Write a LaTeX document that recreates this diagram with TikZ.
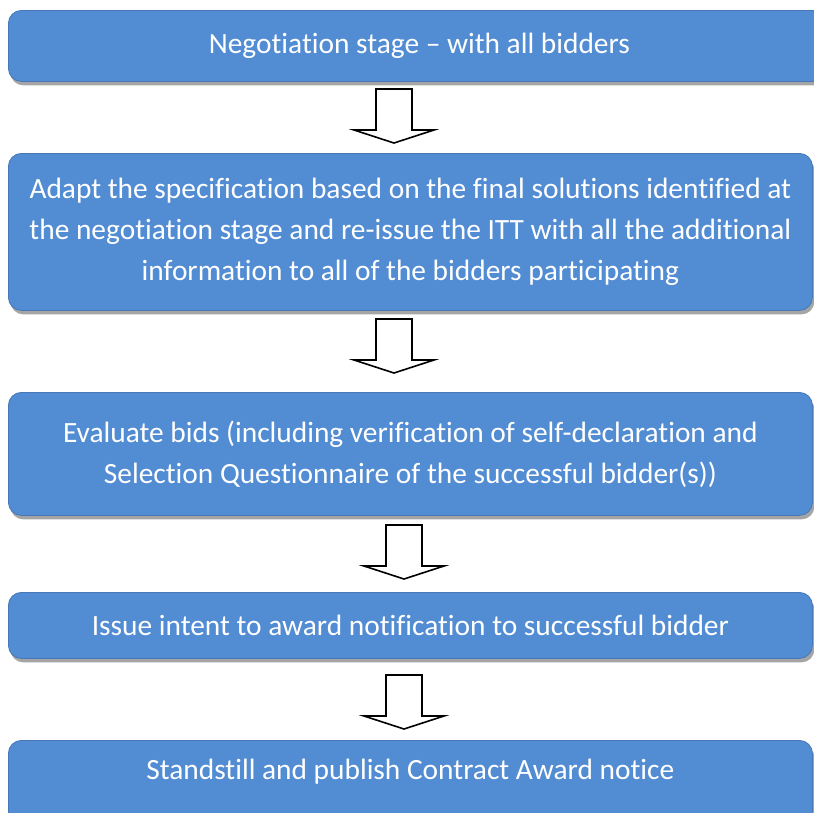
\documentclass[tikz,border=0pt]{standalone}
\usepackage{fontspec}
\setmainfont{Carlito}[Ligatures=NoCommon]
\usetikzlibrary{shadows}
\definecolor{boxblue}{RGB}{82,140,211}
\definecolor{boxedge}{RGB}{70,120,184}
\definecolor{shadowgray}{RGB}{165,165,165}

\begin{document}
\begin{tikzpicture}[x=1pt,y=-1pt,
      stage/.style={draw=boxedge,line width=0.8pt,fill=boxblue,rounded corners=13pt,
        anchor=north west,align=center,text=white,inner sep=0pt,
        font=\fontsize{29.4}{41}\selectfont,
        drop shadow={shadow xshift=2pt,shadow yshift=-4pt,fill=shadowgray,opacity=1}},
      flow/.style={draw=black,line width=1.6pt,fill=white,line join=miter}]
    \useasboundingbox (0,0) rectangle (814,812);
    \node[stage,minimum width=822pt,minimum height=71pt] (neg) at (8,10)
      {Negotiation stage – with all bidders};
    \node[stage,minimum width=804pt,minimum height=157pt] (adapt) at (8,153)
      {Adapt the specification based on the final solutions identified at\\
       the negotiation stage and re-issue the ITT with all the additional\\
       information to all of the bidders participating};
    \node[stage,minimum width=804pt,minimum height=123pt] (eval) at (8,392)
      {Evaluate bids (including verification of self-declaration and\\
       Selection Questionnaire of the successful bidder(s))};
    \node[stage,minimum width=804pt,minimum height=66pt] (intent) at (8,592)
      {Issue intent to award notification to successful bidder};
    \node[stage,minimum width=804pt,minimum height=84pt,text depth=27pt] (stand) at (8,740)
      {Standstill and publish Contract Award notice};
    % block arrows between the stages
    \foreach \x/\y in {394/89,394/319,404/525,404/675}
      \draw[flow] (\x-18,\y) -- (\x+18,\y) -- (\x+18,\y+41) -- (\x+40,\y+41)
        -- (\x,\y+54) -- (\x-40,\y+41) -- (\x-18,\y+41) -- cycle;
  \end{tikzpicture}
\end{document}
